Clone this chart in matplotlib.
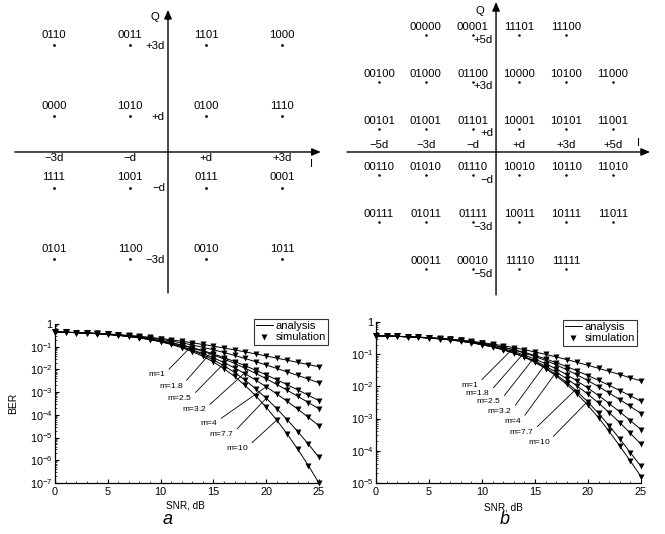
import numpy as np
import matplotlib
matplotlib.use('Agg')
import matplotlib.pyplot as plt
from matplotlib.lines import Line2D
from matplotlib.ticker import FixedLocator, NullFormatter, LogLocator

plt.rcParams['font.family'] = ['Liberation Sans', 'DejaVu Sans']
plt.rcParams['mathtext.fontset'] = 'custom'
plt.rcParams['mathtext.rm'] = 'Liberation Sans'
plt.rcParams['mathtext.it'] = 'Liberation Sans:italic'
plt.rcParams['mathtext.default'] = 'regular'

# ---------------- constellation data ----------------
qam16_levels = [-3, -1, 1, 3]
qam16_rows = [            # top (+3d) to bottom (-3d), columns -3d..+3d
    ['0110', '0011', '1101', '1000'],
    ['0000', '1010', '0100', '1110'],
    ['1111', '1001', '0111', '0001'],
    ['0101', '1100', '0010', '1011'],
]
qam16_q_ticks = ['+3d', '+d', '\u2212d', '\u22123d']
qam16_i_ticks = ['\u22123d', '\u2212d', '+d', '+3d']

cross32_levels = [-5, -3, -1, 1, 3, 5]
cross32_rows = [          # top (+5d) to bottom (-5d), columns -5d..+5d
    [None, '00000', '00001', '11101', '11100', None],
    ['00100', '01000', '01100', '10000', '10100', '11000'],
    ['00101', '01001', '01101', '10001', '10101', '11001'],
    ['00110', '01010', '01110', '10010', '10110', '11010'],
    ['00111', '01011', '01111', '10011', '10111', '11011'],
    [None, '00011', '00010', '11110', '11111', None],
]
cross32_q_ticks = ['+5d', '+3d', '+d', '\u2212d', '\u22123d', '\u22125d']
cross32_i_ticks = ['\u22125d', '\u22123d', '\u2212d', '+d', '+3d', '+5d']

# ---------------- BER data ----------------
snr_db = [0, 1, 2, 3, 4, 5, 6, 7, 8, 9, 10, 11, 12, 13, 14, 15, 16, 17, 18, 19, 20, 21, 22, 23, 24, 25]
m_labels = ['1', '1.8', '2.5', '3.2', '4', '7.7', '10']

# (a) 16QAM
ber_a_m1 = [0.447, 0.435, 0.421, 0.405, 0.386, 0.364, 0.340, 0.314, 0.287, 0.258, 0.229, 0.201, 0.174,
            0.149, 0.126, 0.106, 0.0878, 0.0723, 0.0592, 0.0482, 0.0391, 0.0315, 0.0254, 0.0204, 0.0163, 0.0131]
ber_a_m1_8 = [0.446, 0.434, 0.419, 0.402, 0.383, 0.360, 0.335, 0.306, 0.276, 0.244, 0.211, 0.1785, 0.1478,
              0.1196, 0.0946, 0.0732, 0.0556, 0.0414, 0.0303, 0.0219, 0.01566, 0.01107, 0.00777, 0.00541,
              0.00375, 0.00258]
ber_a_m2_5 = [0.446, 0.433, 0.417, 0.398, 0.376, 0.351, 0.322, 0.290, 0.256, 0.221, 0.1854, 0.151, 0.1193,
              0.0912, 0.0673, 0.0481, 0.0333, 0.02233, 0.01457, 0.00927, 0.00576, 0.00351, 0.00211,
              0.001246, 0.000727, 0.000421]
ber_a_m3_2 = [0.445, 0.432, 0.417, 0.399, 0.377, 0.3514, 0.3228, 0.2910, 0.2566, 0.2206, 0.1841, 0.1487,
              0.1159, 0.0870, 0.0626, 0.0433, 0.02874, 0.01835, 0.01129, 0.00672, 0.00388, 0.00218,
              0.001203, 0.00065, 0.000346, 0.000183]
ber_a_m4 = [0.445, 0.432, 0.416, 0.396, 0.373, 0.346, 0.3157, 0.2818, 0.2455, 0.2078, 0.1701, 0.1340,
            0.1012, 0.0729, 0.0499, 0.0324, 0.01998, 0.01166, 0.00646, 0.00341, 0.00172, 0.000833,
            0.000389, 0.000176, 7.75e-5, 3.33e-5]
ber_a_m7_7 = [0.4446, 0.4317, 0.4156, 0.3967, 0.3741, 0.3478, 0.3178, 0.2842, 0.2477, 0.2092, 0.1702,
              0.1323, 0.0977, 0.0679, 0.0440, 0.02642, 0.01456, 0.00734, 0.003375, 0.001411, 0.000538,
              0.000188, 6.06e-5, 1.82e-5, 5.1e-6, 1.36e-6]
ber_a_m10 = [0.4446, 0.4315, 0.4153, 0.3963, 0.3735, 0.3467, 0.3160, 0.2817, 0.2442, 0.2045, 0.1644,
             0.1257, 0.0906, 0.0609, 0.0377, 0.0213, 0.01083, 0.00492, 0.001975, 0.000698, 0.000216,
             5.87e-5, 1.41e-5, 3.01e-6, 5.76e-7, 1.0e-7]

# (b) 32-cross
ber_b_m1 = [0.3738, 0.3675, 0.3597, 0.3502, 0.3388, 0.3254, 0.3099, 0.2924, 0.2729, 0.2517, 0.2293,
            0.2060, 0.1827, 0.1598, 0.1379, 0.1174, 0.0989, 0.0823, 0.0679, 0.0555, 0.0451, 0.0364,
            0.0292, 0.02331, 0.01855, 0.01472]
ber_b_m1_8 = [0.3735, 0.3670, 0.3589, 0.3492, 0.3374, 0.3234, 0.3071, 0.2883, 0.2669, 0.2434, 0.2182,
              0.1918, 0.1650, 0.1388, 0.1140, 0.0914, 0.0715, 0.0547, 0.0410, 0.0301, 0.02167, 0.01538,
              0.01076, 0.00744, 0.0051, 0.00346]
ber_b_m2_5 = [0.3734, 0.3668, 0.3588, 0.3490, 0.3372, 0.3232, 0.3068, 0.2880, 0.2665, 0.2430, 0.2178,
              0.1910, 0.1631, 0.1352, 0.1087, 0.0847, 0.0639, 0.0466, 0.0330, 0.0226, 0.01508, 0.0098,
              0.00623, 0.00389, 0.00238, 0.00144]
ber_b_m3_2 = [0.3733, 0.3667, 0.3584, 0.3481, 0.3357, 0.3209, 0.3035, 0.2831, 0.2602, 0.2347, 0.2070,
              0.1780, 0.1487, 0.1202, 0.0937, 0.0702, 0.0505, 0.0348, 0.02294, 0.01453, 0.00884, 0.00518,
              0.00294, 0.001616, 0.000866, 0.000454]
ber_b_m4 = [0.3733, 0.3666, 0.3579, 0.3471, 0.3341, 0.3183, 0.3000, 0.2786, 0.2545, 0.2280, 0.1993,
            0.1695, 0.1395, 0.1107, 0.0842, 0.0612, 0.0423, 0.02776, 0.01727, 0.01018, 0.00569, 0.00303,
            0.001537, 0.000748, 0.00035, 0.000159]
ber_b_m7_7 = [0.3731, 0.3664, 0.3577, 0.3470, 0.3338, 0.3180, 0.2996, 0.2781, 0.2540, 0.2274, 0.1986,
              0.1686, 0.1385, 0.1095, 0.0829, 0.0581, 0.0382, 0.02326, 0.01311, 0.00682, 0.00326,
              0.001445, 0.000597, 0.000234, 8.78e-5, 3.26e-5]
ber_b_m10 = [0.3731, 0.3664, 0.3576, 0.3469, 0.3336, 0.3177, 0.2993, 0.2777, 0.2535, 0.2268, 0.1979,
             0.1676, 0.1375, 0.1085, 0.0804, 0.0556, 0.0358, 0.0212, 0.01152, 0.00571, 0.00257,
             0.001056, 0.000399, 0.000141, 4.77e-5, 1.59e-5]

y_ticks_a = [1e-7, 1e-6, 1e-5, 1e-4, 1e-3, 1e-2, 1e-1, 1]
y_ticklabels_a = ['10$^{-7}$', '10$^{-6}$', '10$^{-5}$', '10$^{-4}$', '10$^{-3}$', '10$^{-2}$', '10$^{-1}$', '1']
y_ticks_b = [1e-5, 1e-4, 1e-3, 1e-2, 1e-1, 1]
y_ticklabels_b = ['10$^{-5}$', '10$^{-4}$', '10$^{-3}$', '10$^{-2}$', '10$^{-1}$', '1']
x_ticks = [0, 5, 10, 15, 20, 25]

# ---------------- figure ----------------
W, H = 665, 534
fig = plt.figure(figsize=(W / 100, H / 100), dpi=100)


def add_axes_px(left, top, right, bottom):
    return fig.add_axes([left / W, 1 - bottom / H, (right - left) / W, (bottom - top) / H])


def arrow(ax, start, end):
    ax.annotate('', xy=end, xytext=start, annotation_clip=False,
                arrowprops=dict(arrowstyle='-|>,head_length=0.7,head_width=0.3',
                                mutation_scale=7.5, lw=1.0, color='black',
                                shrinkA=0, shrinkB=0))


CFS = 8.2

# ----- 16QAM constellation -----
ax1 = add_axes_px(12.2, 5.6, 323.8, 294.8)
ax1.set_xlim(-4.1, 4.1)
ax1.set_ylim(-4.0, 4.1)
ax1.axis('off')
arrow(ax1, (-4.03, 0), (4.02, 0))
arrow(ax1, (0, -3.95), (0, 3.98))
q_levels_desc = qam16_levels[::-1]
for r, row in enumerate(qam16_rows):
    yq = q_levels_desc[r]
    for c, lab in enumerate(row):
        xi = qam16_levels[c]
        ax1.plot([xi], [yq], 'o', ms=2.0, color='black', mec='none')
        ax1.text(xi, yq + 0.29, lab, ha='center', va='center', fontsize=CFS)
for yq, lab in zip(q_levels_desc, qam16_q_ticks):
    ax1.text(-0.08, yq - 0.02, lab, ha='right', va='center', fontsize=CFS)
for xi, lab in zip(qam16_levels, qam16_i_ticks):
    ax1.text(xi, -0.17, lab, ha='center', va='center', fontsize=CFS)
ax1.text(3.79, -0.34, 'I', ha='center', va='center', fontsize=CFS)
ax1.text(-0.34, 3.78, 'Q', ha='center', va='center', fontsize=CFS)

# ----- 32-cross constellation -----
ax2 = add_axes_px(341.6, -0.1, 657.5, 299.4)
ax2.set_xlim(-6.6, 6.9)
ax2.set_ylim(-6.3, 6.5)
ax2.axis('off')
arrow(ax2, (-6.37, 0), (6.58, 0))
arrow(ax2, (0, -6.11), (0, 6.41))
c_levels_desc = cross32_levels[::-1]
for r, row in enumerate(cross32_rows):
    yq = c_levels_desc[r]
    for c, lab in enumerate(row):
        if lab is None:
            continue
        xi = cross32_levels[c]
        ax2.plot([xi], [yq], 'o', ms=1.8, color='black', mec='none')
        ax2.text(xi, yq + 0.34, lab, ha='center', va='center', fontsize=CFS)
for yq, lab in zip(c_levels_desc, cross32_q_ticks):
    ax2.text(-0.13, yq - 0.2, lab, ha='right', va='center', fontsize=CFS)
for xi, lab in zip(cross32_levels, cross32_i_ticks):
    ax2.text(xi, 0.3, lab, ha='center', va='center', fontsize=CFS)
ax2.text(6.07, 0.38, 'I', ha='center', va='center', fontsize=CFS)
ax2.text(-0.68, 6.03, 'Q', ha='center', va='center', fontsize=CFS)


# ----- BER plots -----
def style_ber(ax, yticks, yticklabels, ymin):
    ax.set_yscale('log')
    ax.set_xlim(0, 25)
    ax.set_ylim(ymin, 1)
    for sp in ['top', 'right']:
        ax.spines[sp].set_visible(False)
    for sp in ['left', 'bottom']:
        ax.spines[sp].set_linewidth(0.9)
    ax.yaxis.set_major_locator(FixedLocator(yticks))
    ax.set_yticklabels(yticklabels)
    ax.yaxis.set_minor_locator(LogLocator(base=10, subs=np.arange(2, 10), numticks=20))
    ax.yaxis.set_minor_formatter(NullFormatter())
    ax.set_xticks(x_ticks)
    ax.set_xticks(snr_db, minor=True)
    ax.tick_params(axis='both', which='major', direction='in', length=3, width=0.8,
                   labelsize=7.8, pad=2)
    ax.tick_params(axis='x', which='major', pad=3)
    ax.tick_params(axis='both', which='minor', direction='in', length=1.5, width=0.5)


def draw_curves(ax, curves):
    for ber in curves:
        ax.plot(snr_db, ber, '-', color='black', lw=0.7)
        ax.plot(snr_db, ber, 'v', color='black', ms=3.8, mec='none', clip_on=False)


def draw_m_labels(ax, curves, targets, positions):
    for lab, ber, s_t, (sx, ly) in zip(m_labels, curves, targets, positions):
        yt = 10 ** np.interp(s_t, snr_db, np.log10(ber))
        ax.annotate('$m$=' + lab, xy=(s_t, yt), xytext=(sx, 10 ** ly), fontsize=6,
                    ha='center', va='center',
                    arrowprops=dict(arrowstyle='-', lw=0.6, color='black',
                                    shrinkA=0, shrinkB=0, relpos=(1.0, 0.7)))


def add_legend(ax, anchor):
    handles = [Line2D([], [], color='black', lw=0.7),
               Line2D([], [], marker='v', ls='none', color='black', ms=3.8, mec='none')]
    leg = ax.legend(handles, ['analysis', 'simulation'], loc='upper right', bbox_to_anchor=anchor,
                    borderaxespad=0, fontsize=8, frameon=True, fancybox=False, handlelength=1.5,
                    handletextpad=0.25, borderpad=0.2, labelspacing=0.1)
    leg.get_frame().set_edgecolor('black')
    leg.get_frame().set_linewidth(0.8)


curves_a = [ber_a_m1, ber_a_m1_8, ber_a_m2_5, ber_a_m3_2, ber_a_m4, ber_a_m7_7, ber_a_m10]
curves_b = [ber_b_m1, ber_b_m1_8, ber_b_m2_5, ber_b_m3_2, ber_b_m4, ber_b_m7_7, ber_b_m10]

axa = add_axes_px(55, 324, 319, 483)
style_ber(axa, y_ticks_a, y_ticklabels_a, 1e-7)
draw_curves(axa, curves_a)
draw_m_labels(axa, curves_a,
              [13.2, 15.0, 16.4, 18.3, 20.0, 20.0, 21.0],
              [(9.66, -2.20), (11.0, -2.70), (11.84, -3.22), (13.2, -3.74),
               (14.6, -4.32), (15.8, -4.82), (17.3, -5.42)])
add_legend(axa, (1.034, 1.031))

axb = add_axes_px(376, 322, 641, 483)
style_ber(axb, y_ticks_b, y_ticklabels_b, 1e-5)
draw_curves(axb, curves_b)
draw_m_labels(axb, curves_b,
              [13.0, 14.0, 15.0, 16.0, 17.0, 18.8, 19.8],
              [(8.87, -1.93), (9.62, -2.20), (10.66, -2.45), (11.70, -2.76),
               (12.92, -3.07), (13.77, -3.39), (15.38, -3.70)])
add_legend(axb, (0.985, 1.012))

fig.text(13 / W, 1 - 403 / H, 'BER', rotation=90, ha='center', va='center', fontsize=7.5)
fig.text(185 / W, 1 - 506 / H, 'SNR, dB', ha='center', va='center', fontsize=7.2)
fig.text(503 / W, 1 - 507 / H, 'SNR, dB', ha='center', va='center', fontsize=7.2)
fig.text(168 / W, 1 - 520 / H, 'a', ha='center', va='center', fontsize=13, style='italic')
fig.text(505 / W, 1 - 520 / H, 'b', ha='center', va='center', fontsize=13, style='italic')

fig.savefig('out.png', dpi=100, facecolor='white')
